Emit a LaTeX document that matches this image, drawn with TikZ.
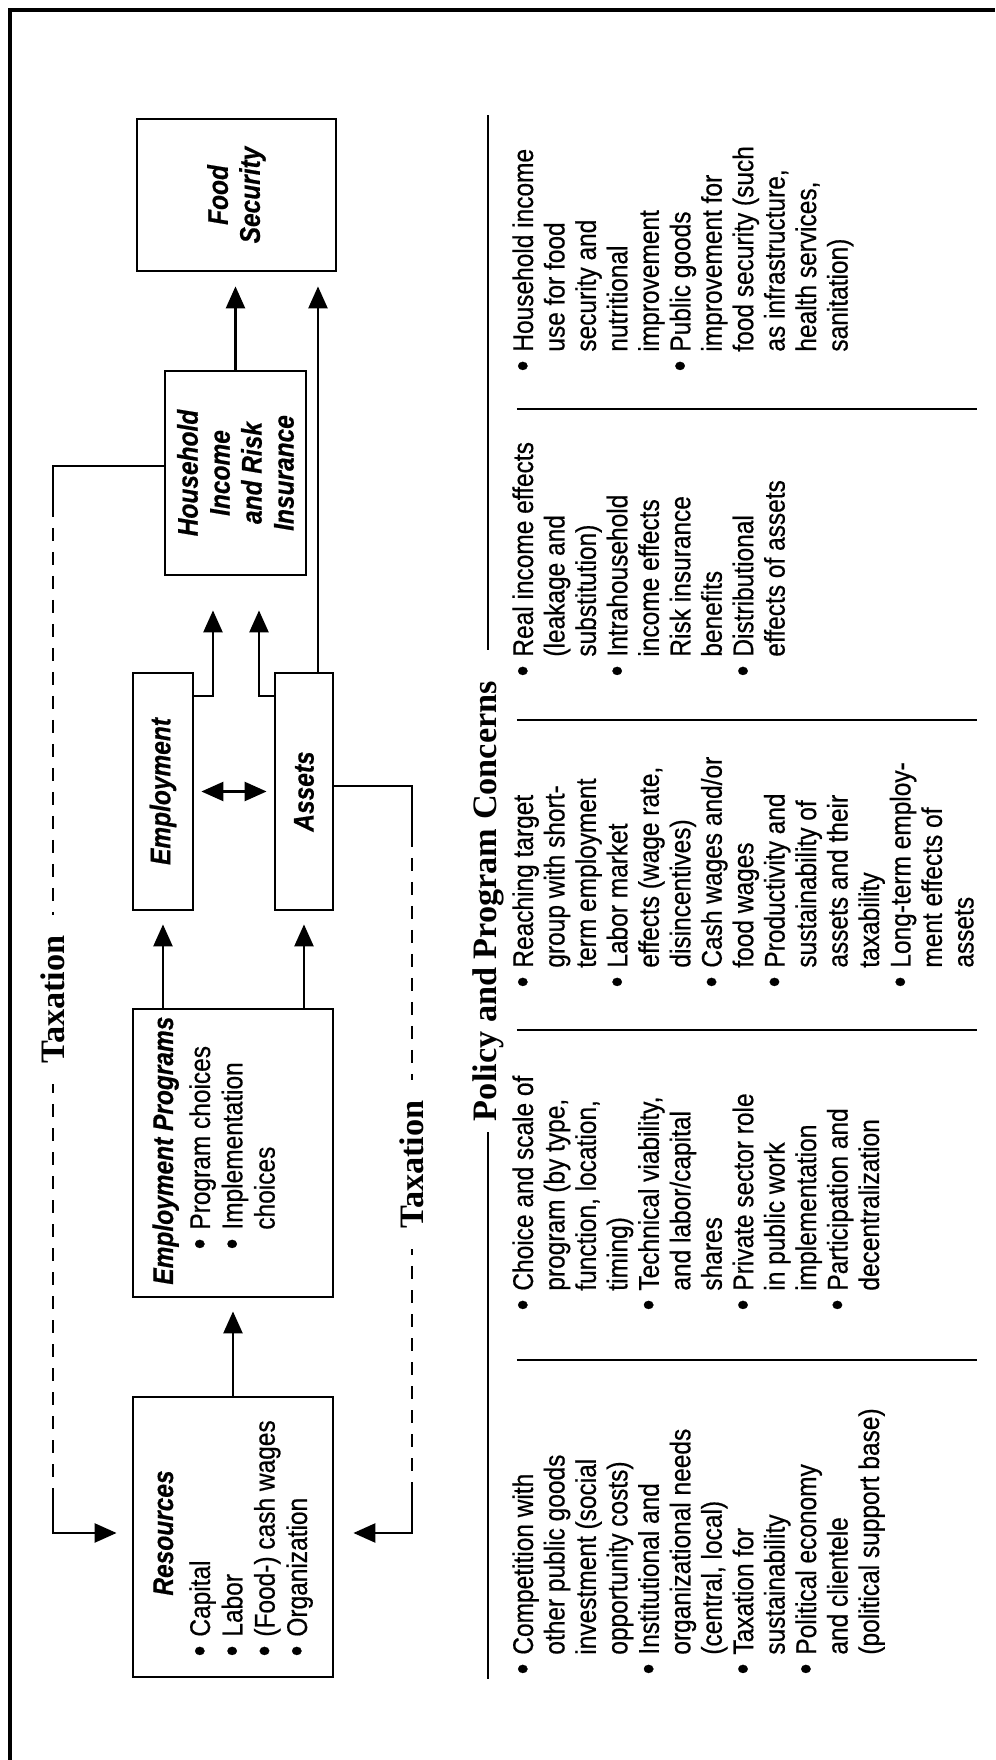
\documentclass[tikz,border=0pt]{standalone}
\usepackage{fontspec}
\setmainfont{Liberation Sans}[FakeStretch=0.86, FakeBold=0.6]
\newfontfamily\serifhead{Liberation Serif}
\usetikzlibrary{arrows.meta}
\newcommand{\boxhead}{\fontsize{16.2pt}{18.2pt}\selectfont\bfseries\itshape}
\newcommand{\boxtext}{\fontsize{16.2pt}{18.4pt}\selectfont}
\newcommand{\coltext}{\fontsize{16.2pt}{17.9pt}\selectfont}
\newcommand{\bighead}{\fontsize{19.5pt}{22pt}\selectfont\serifhead\bfseries}
\newcommand{\bul}{\llap{\raisebox{-0.3mm}{\fontsize{20pt}{20pt}\selectfont\textbullet}\hspace{1.8mm}}}
\tikzset{
	box/.style={draw, line width=1.6pt, inner sep=0pt, font=\boxhead, align=center},
	boxlabel/.style={inner sep=0pt, font=\boxhead},
	boxlist/.style={anchor=north west, inner sep=0pt, align=left, font=\boxtext},
	coltxt/.style={anchor=north west, inner sep=0pt, align=left, font=\coltext},
	conn/.style={line width=1.4pt},
	arr/.style={line width=1.4pt, -{Triangle[length=4.4mm,width=3.8mm]}},
	dblarr/.style={line width=1.4pt, {Triangle[length=4.4mm,width=3.8mm]}-{Triangle[length=4.4mm,width=3.8mm]}},
	taxdash/.style={dash pattern=on 2.6mm off 2.2mm},
	taxlabel/.style={fill=white, inner xsep=4mm, inner ysep=1mm, font=\bighead},
	rule/.style={line width=1.6pt}
}

\begin{document}
\begin{tikzpicture}[x=0.2mm, y=0.2mm, rotate=90, transform shape]
	\useasboundingbox (0,0) rectangle (1760,995);
	% frame
	\draw[line width=1.8pt] (0,985) -- (1750,985) -- (1750,0);

	% boxes
	\node[box, minimum width=56mm, minimum height=40mm] (res) at (223,762) {};
	\node[box, minimum width=57.6mm, minimum height=40mm] (ep) at (607,762) {};
	\node[box, minimum width=47.4mm, minimum height=12mm] (emp) at (968.5,832) {Employment};
	\node[box, minimum width=47.4mm, minimum height=11.6mm] (as) at (968.5,691) {Assets};
	\node[box, minimum width=40.8mm, minimum height=28.2mm] (hh) at (1287,759.5) {Household\\Income\\and Risk\\Insurance};
	\node[box, minimum width=30.4mm, minimum height=39.8mm] (fs) at (1565,758.5) {Food\\Security};

	\node[boxlabel, anchor=base] (resh) at (227,822) {Resources};
	\node[boxlist] (resl) at (123,806) {\bul Capital\\ \bul Labor\\ \bul (Food-) cash wages\\ \bul Organization};
	\node[boxlabel, anchor=base west] (eph) at (475,822) {Employment Programs};
	\node[boxlist] (epl) at (530,806) {\bul Program choices\\ \bul Implementation\\ choices};

	% flows
	\coordinate (eu) at (1064,782);
	\coordinate (au) at (1064,736);
	\coordinate (af) at (1087,677);
	\draw[arr, shorten >=2.6mm] (res) -- (ep);
	\draw[arr, shorten >=2.6mm] (ep.east |- emp) -- (emp);
	\draw[arr, shorten >=2.6mm] (ep.east |- as) -- (as);
	\draw[dblarr, shorten <=1.4mm, shorten >=1.4mm] (emp) -- (as);
	\draw[arr, shorten >=6.8mm] (eu |- emp.south) -- (eu) -- (eu -| hh.west);
	\draw[arr, shorten >=6.8mm] (au |- as.north) -- (au) -- (au -| hh.west);
	\draw[arr, shorten >=2.8mm] (af) -- (af -| fs.west);
	\draw[arr, shorten >=2.8mm] (hh) -- (hh -| fs.west);

	% taxation loops
	\coordinate (tu1) at (1294,942);
	\coordinate (tu2) at (1256,942);
	\coordinate (tl1) at (265,942);
	\coordinate (tl2) at (227,942);
	\draw[conn] (tu1 |- hh.north) -- (tu1) -- (tu2);
	\draw[conn, taxdash] (tu2) -- node[taxlabel] (tax1) {Taxation} (tl1);
	\draw[arr, shorten >=3mm] (tl1) -- (tl2) -- (tl2 |- res.north);

	\coordinate (bu1) at (974,583);
	\coordinate (bu2) at (926,583);
	\coordinate (bl1) at (265,583);
	\coordinate (bl2) at (227,583);
	\draw[conn] (bu1 |- as.south) -- (bu1) -- (bu2);
	\draw[conn, taxdash] (bu2) -- node[taxlabel] (tax2) {Taxation} (bl1);
	\draw[arr, shorten >=3.8mm] (bl1) -- (bl2) -- (bl2 |- res.south);

	% concerns
	\coordinate (pl) at (81,507);
	\coordinate (pr) at (1645,507);
	\node[inner xsep=2.2mm, font=\bighead] (pol) at (859,507) {Policy and Program Concerns};
	\draw[rule] (pl) -- (pl -| pol.west);
	\draw[rule] ([xshift=4mm]pol.east |- pr) -- (pr);
	\foreach \sx in {400,730,1040,1351}
		\draw[rule] (\sx,478) -- (\sx,18);

	\node[coltxt] (c1) at (105,483) {\bul Competition with\\ other public goods\\ investment (social\\ opportunity costs)\\ \bul Institutional and\\ organizational needs\\ (central, local)\\ \bul Taxation for\\ sustainability\\ \bul Political economy\\ and clientele\\ (political support base)};
	\node[coltxt] (c2) at (469,483) {\bul Choice and scale of\\ program (by type,\\ function, location,\\ timing)\\ \bul Technical viability,\\ and labor/capital\\ shares\\ \bul Private sector role\\ in public work\\ implementation\\ \bul Participation and\\ decentralization};
	\node[coltxt] (c3) at (792,483) {\bul Reaching target\\ group with short-\\ term employment\\ \bul Labor market\\ effects (wage rate,\\ disincentives)\\ \bul Cash wages and/or\\ food wages\\ \bul Productivity and\\ sustainability of\\ assets and their\\ taxability\\ \bul Long-term employ-\\ ment effects of\\ assets};
	\node[coltxt] (c4) at (1103,483) {\bul Real income effects\\ (leakage and\\ substitution)\\ \bul Intrahousehold\\ income effects\\ Risk insurance\\ benefits\\ \bul Distributional\\ effects of assets};
	\node[coltxt] (c5) at (1408,483) {\bul Household income\\ use for food\\ security and\\ nutritional\\ improvement\\ \bul Public goods\\ improvement for\\ food security (such\\ as infrastructure,\\ health services,\\ sanitation)};
\end{tikzpicture}
\end{document}
